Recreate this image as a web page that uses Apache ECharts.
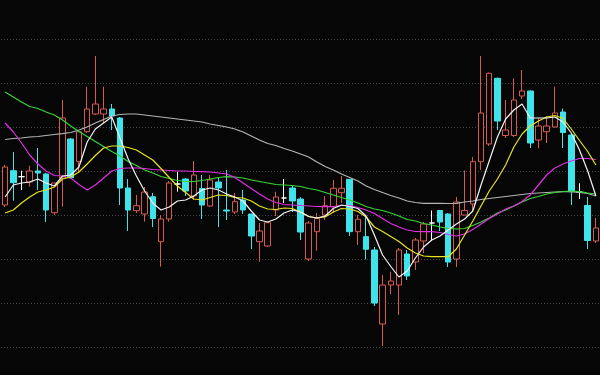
<!DOCTYPE html>
<html>
<head>
<meta charset="utf-8">
<script src="https://cdn.jsdelivr.net/npm/echarts@6/dist/echarts.min.js"></script>
<style>
html,body{margin:0;padding:0;background:#060606;}
#chart{width:600px;height:375px;}
</style>
</head>
<body>
<div id="chart"></div>
<script>
// Candles: [open, close, low, high]
var ohlc = [
[10.665,11.045,10.645,11.065],[11.008,10.888,10.708,11.195],[10.948,10.948,10.815,11.008],[10.895,11.005,10.848,11.058],
[11.005,10.985,10.815,11.235],[10.975,10.615,10.495,10.988],[10.588,10.885,10.565,10.885],[10.935,11.535,10.648,11.715],
[11.325,10.938,10.93,11.335],[11.098,11.398,10.985,11.405],[11.398,11.625,11.385,11.848],[11.575,11.675,11.565,12.155],
[11.575,11.625,11.485,11.848],[11.625,11.555,11.415,11.675],[11.535,10.835,10.665,11.545],[10.835,10.615,10.405,10.925],
[10.608,10.658,10.585,10.765],[10.575,10.795,10.498,10.845],[10.748,10.53,10.445,10.785],[10.298,10.525,10.048,10.565],
[10.525,10.885,10.498,10.905],[10.875,10.875,10.798,10.998],[10.925,10.805,10.755,10.935],[10.755,10.965,10.715,11.105],
[10.83,10.665,10.525,10.965],[10.655,10.915,10.645,10.965],[10.895,10.835,10.445,10.945],[10.615,10.605,10.515,11.015],
[10.595,10.698,10.575,10.785],[10.715,10.615,10.575,10.815],[10.575,10.355,10.225,10.575],[10.298,10.405,10.098,10.485],
[10.255,10.488,10.245,10.495],[10.615,10.745,10.555,10.798],[10.735,10.735,10.685,10.925],[10.835,10.705,10.595,10.855],
[10.725,10.395,10.315,10.745],[10.125,10.485,10.105,10.505],[10.398,10.532,10.208,10.585],[10.565,10.658,10.515,10.755],
[10.648,10.832,10.585,10.915],[10.788,10.832,10.685,10.955],[10.922,10.398,10.355,10.925],[10.398,10.522,10.265,10.565],
[10.348,10.222,10.122,10.555],[10.215,9.685,9.655,10.245],[9.475,9.865,9.255,9.965],[9.865,9.905,9.775,9.998],
[9.865,10.215,9.565,10.235],[10.175,9.955,9.915,10.215],[10.095,10.315,10.015,10.335],[10.305,10.475,10.185,10.495],
[10.485,10.485,10.305,10.61],[10.61,10.495,10.405,10.61],[10.575,10.095,10.045,10.585],[10.125,10.695,10.045,10.745],
[10.565,10.61,10.565,11.01],[10.675,11.098,10.595,11.145],[11.098,11.585,11.015,12.155],[11.275,11.982,11.255,11.99],
[11.932,11.505,11.415,11.94],[11.36,11.415,11.335,11.715],[11.36,11.715,11.345,11.932],[11.755,11.805,11.725,12.015],
[11.805,11.285,11.235,11.81],[11.315,11.455,11.232,11.53],[11.398,11.455,11.285,11.555],[11.445,11.585,11.44,11.848],
[11.595,11.39,11.235,11.63],[11.365,10.798,10.665,11.37],[10.795,10.795,10.725,10.882],[10.66,10.31,10.225,10.745],
[10.305,10.435,10.285,10.535]
];

var ma5 = [10.745,10.865,10.885,10.895,10.925,10.885,10.855,10.955,10.965,11.045,11.295,11.425,11.485,11.545,11.335,11.125,10.955,10.805,10.685,10.615,10.645,10.705,10.715,10.755,10.815,10.835,10.815,10.775,10.745,10.705,10.605,10.515,10.495,10.525,10.585,10.615,10.595,10.55,10.535,10.555,10.63,10.665,10.65,10.63,10.555,10.365,10.165,10.05,9.945,10.005,10.135,10.245,10.315,10.355,10.415,10.475,10.525,10.605,10.865,11.105,11.345,11.525,11.615,11.675,11.535,11.535,11.535,11.545,11.495,11.385,11.215,11.005,10.755];

var ma10 = [10.585,10.615,10.685,10.745,10.795,10.815,10.845,10.925,10.945,10.995,11.075,11.16,11.235,11.255,11.255,11.24,11.215,11.165,11.115,11.03,10.94,10.855,10.79,10.725,10.715,10.74,10.765,10.76,10.74,10.735,10.705,10.655,10.625,10.62,10.635,10.63,10.595,10.55,10.535,10.545,10.595,10.63,10.625,10.6,10.545,10.445,10.40,10.35,10.30,10.235,10.185,10.155,10.148,10.148,10.148,10.225,10.365,10.505,10.655,10.805,10.925,11.065,11.245,11.375,11.455,11.505,11.545,11.56,11.53,11.425,11.31,11.20,11.065];

var ma20 = [11.485,11.395,11.285,11.165,11.075,11.005,10.96,10.955,10.935,10.87,10.815,10.865,10.935,11.005,11.03,11.035,11.035,11.03,11.02,11.015,11.01,11.005,11.005,11.00,10.998,10.995,10.985,10.975,10.94,10.885,10.83,10.775,10.725,10.69,10.67,10.665,10.66,10.655,10.65,10.648,10.648,10.66,10.66,10.64,10.615,10.58,10.53,10.48,10.445,10.415,10.40,10.398,10.398,10.39,10.37,10.355,10.375,10.42,10.475,10.53,10.575,10.625,10.655,10.70,10.765,10.865,10.965,11.035,11.075,11.105,11.13,11.13,11.12];

var ma30 = [11.795,11.745,11.695,11.65,11.63,11.595,11.565,11.515,11.455,11.40,11.35,11.30,11.25,11.20,11.155,11.10,11.06,11.015,10.985,10.95,10.93,10.91,10.90,10.90,10.91,10.925,10.94,10.948,10.945,10.935,10.915,10.90,10.885,10.87,10.865,10.86,10.85,10.83,10.815,10.79,10.765,10.74,10.715,10.685,10.65,10.625,10.61,10.585,10.555,10.52,10.505,10.48,10.465,10.445,10.432,10.425,10.43,10.46,10.495,10.535,10.585,10.615,10.655,10.695,10.73,10.75,10.775,10.79,10.80,10.805,10.798,10.785,10.775];

var ma60 = [11.32,11.33,11.335,11.345,11.35,11.36,11.37,11.378,11.39,11.415,11.445,11.485,11.52,11.555,11.57,11.575,11.575,11.565,11.555,11.545,11.535,11.525,11.515,11.505,11.495,11.475,11.46,11.445,11.425,11.395,11.355,11.315,11.28,11.26,11.23,11.205,11.175,11.145,11.095,11.05,11.015,10.975,10.94,10.905,10.855,10.82,10.79,10.76,10.735,10.705,10.69,10.682,10.682,10.682,10.68,10.682,10.695,10.705,10.72,10.73,10.74,10.75,10.76,10.77,10.78,10.785,10.79,10.795,10.798,10.798,10.79,10.78,10.755];

var categories = ohlc.map(function (d, i) { return String(i + 1); });

var chart = echarts.init(document.getElementById('chart'), null, {renderer: 'canvas'});

function maSeries(name, data, color) {
  return {
    name: name, type: 'line', data: data, symbol: 'none', smooth: false,
    lineStyle: {color: color, width: 1.2}, z: 3, silent: true
  };
}

chart.setOption({
  backgroundColor: '#060606',
  animation: false,
  grid: {left: 1, width: 600, top: 39.5, height: 308},
  xAxis: {
    type: 'category', data: categories, boundaryGap: true,
    axisLine: {show: false}, axisTick: {show: false}, axisLabel: {show: false},
    splitLine: {show: false}
  },
  yAxis: {
    type: 'value', min: 9.24, max: 12.32, interval: 0.44, scale: true,
    axisLine: {show: false}, axisTick: {show: false}, axisLabel: {show: false},
    splitLine: {show: true, lineStyle: {color: '#454545', width: 1, type: [1, 2]}}
  },
  series: [
    {
      name: 'K', type: 'candlestick', data: ohlc, barWidth: 6, z: 2,
      itemStyle: {
        color: '#060606', color0: '#3fe3ea',
        borderColor: '#d65a4e', borderColor0: '#3fe3ea',
        borderColorDoji: '#ffffff', borderWidth: 1
      }
    },
    maSeries('MA60', ma60, '#b4b4b4'),
    maSeries('MA30', ma30, '#38d438'),
    maSeries('MA20', ma20, '#e030e0'),
    maSeries('MA10', ma10, '#e6e61e'),
    maSeries('MA5', ma5, '#f4f4f4')
  ]
});
</script>
</body>
</html>
